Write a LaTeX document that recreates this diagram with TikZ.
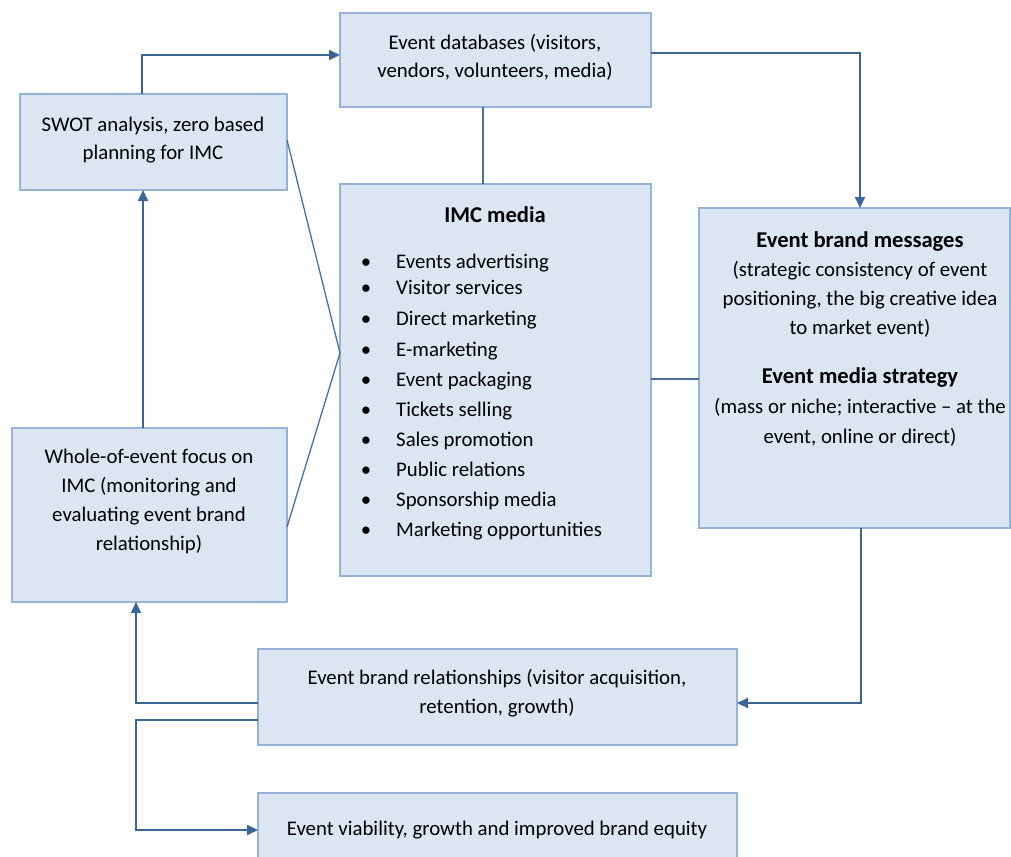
\documentclass[tikz,border=0pt]{standalone}
\usepackage{fontspec}
\setmainfont{Carlito}
\usetikzlibrary{arrows.meta}
\definecolor{boxfill}{HTML}{DCE6F2}
\definecolor{boxline}{HTML}{95B3D7}
\definecolor{arrowcol}{HTML}{3A6596}
\definecolor{thincol}{HTML}{4A6FA5}
\newcommand{\hd}[1]{{\fontsize{22.6}{29}\selectfont\bfseries #1}}
\tikzset{
  box/.style={draw=boxline, fill=boxfill, line width=2pt, inner sep=0pt, outer sep=0pt},
  txt/.style={align=center, inner sep=0pt, font=\fontsize{20.8}{29}\selectfont, text=black},
  arr/.style={draw=arrowcol, line width=2pt, -{Triangle[length=11pt,width=10pt]}},
  thin/.style={draw=thincol, line width=1.3pt}
}
\begin{document}
\begin{tikzpicture}[x=1pt,y=-1pt]
\useasboundingbox (0,0) rectangle (1011,856);
% boxes
\node[box, minimum width=311pt, minimum height=94pt] (db) at (495.5,60) {};
\node[box, minimum width=267pt, minimum height=96pt] (swot) at (153.5,142) {};
\node[box, minimum width=311pt, minimum height=392pt] (imc) at (495.5,380) {};
\node[box, minimum width=311pt, minimum height=320pt] (ebm) at (854.5,368) {};
\node[box, minimum width=275pt, minimum height=174pt] (whole) at (149.5,515) {};
\node[box, minimum width=479pt, minimum height=96pt] (rel) at (497.5,697) {};
\node[box, minimum width=479pt, minimum height=90pt] (via) at (497.5,838) {};
% texts (anchor=base is the baseline of the last line)
\node[txt, anchor=base, font=\fontsize{20.8}{28}\selectfont] (dbt) at (495,78) {Event databases (visitors,\\vendors, volunteers, media)};
\node[txt, anchor=base, font=\fontsize{20.8}{28}\selectfont] (swott) at (153,159) {SWOT analysis, zero based\\planning for IMC};
\node[txt, anchor=base] (wholet) at (149,550) {Whole-of-event focus on\\IMC (monitoring and\\evaluating event brand\\relationship)};
\node[txt, anchor=base] (relt) at (497,713) {Event brand relationships (visitor acquisition,\\retention, growth)};
\node[txt, anchor=base] (viat) at (497,835) {Event viability, growth and improved brand equity};
\node[txt, anchor=base] (ebmt) at (860,334) {\hd{Event brand messages}\\(strategic consistency of event\\positioning, the big creative idea\\to market event)};
\node[txt, anchor=base, font=\fontsize{20.8}{30}\selectfont] (ebmt2) at (860,443) {\hd{Event media strategy}\\(mass or niche; interactive -- at the\\event, online or direct)};
\node[txt, anchor=base] (imct) at (495,222) {\hd{IMC media}};
\foreach \t/\y [count=\i] in {Events advertising/268, Visitor services/294, Direct marketing/325, E-marketing/356, Event packaging/386, Tickets selling/416, Sales promotion/446, Public relations/476, Sponsorship media/506, Marketing opportunities/536}{
  \node[txt, anchor=base] (bul\i) at (366,\y) {•};
  \node[txt, anchor=base west] (item\i) at (396,\y) {\t};
}
% helper coordinates
\coordinate (c1) at (142,55);
\coordinate (c2) at (860,53);
\coordinate (c3) at (483,0);
\coordinate (c4) at (0,379);
\coordinate (c5) at (0,140);
\coordinate (c6) at (0,353);
\coordinate (c7) at (0,527);
\coordinate (c8) at (143,0);
\coordinate (c9) at (861,0);
\coordinate (c10) at (0,703);
\coordinate (c11) at (136,0);
\coordinate (c12) at (0,720);
\coordinate (c13) at (0,830);
% connectors
\draw[arr] (swot.north -| c1) |- (db.west |- c1);
\draw[arr] (db.east |- c2) -| (ebm.north -| c2);
\draw[thin] (db.south -| c3) -- (imc.north -| c3);
\draw[thin] (imc.east |- c4) -- (ebm.west |- c4);
\draw[thin] (swot.east |- c5) -- (imc.west |- c6) -- (whole.east |- c7);
\draw[arr] (whole.north -| c8) -- (swot.south -| c8);
\draw[arr] (ebm.south -| c9) |- (rel.east |- c10);
\draw[arr] (rel.west |- c10) -| (whole.south -| c11);
\draw[arr] (rel.west |- c12) -- (c12 -| c11) |- (via.west |- c13);
\end{tikzpicture}
\end{document}
